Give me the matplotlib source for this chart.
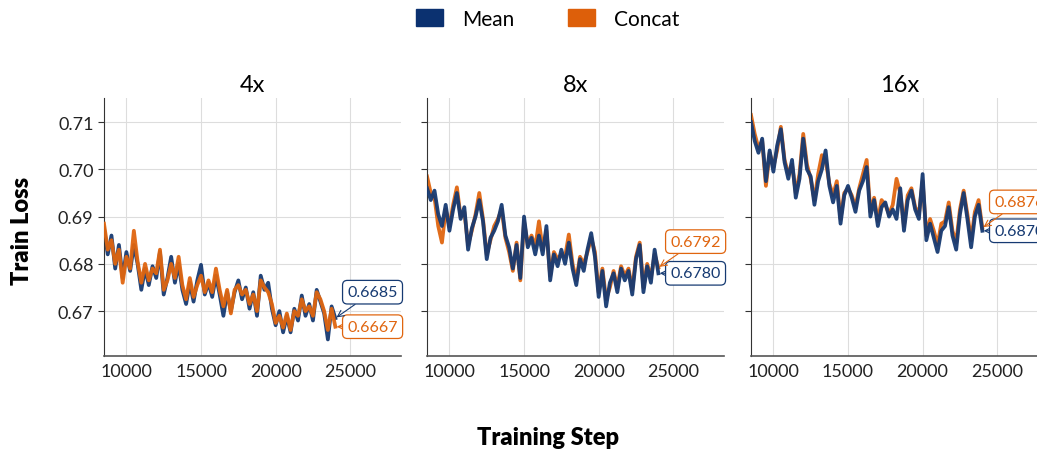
import numpy as np
import matplotlib
matplotlib.use("Agg")
import matplotlib.pyplot as plt
from matplotlib.patches import Patch

plt.rcParams['font.family'] = ['Lato', 'DejaVu Sans']

# training steps (every 250 steps)
steps = np.arange(8500, 24001, 250)

panels = ["4x", "8x", "16x"]

# 4x
mean_4x = [0.6875, 0.6820, 0.6860, 0.6790, 0.6840, 0.6770, 0.6825, 0.6785, 0.6840, 0.6800,
           0.6745, 0.6790, 0.6755, 0.6795, 0.6770, 0.6825, 0.6735, 0.6770, 0.6815, 0.6760,
           0.6800, 0.6745, 0.6715, 0.6760, 0.6720, 0.6765, 0.6798, 0.6735, 0.6760, 0.6730,
           0.6775, 0.6735, 0.6690, 0.6740, 0.6700, 0.6740, 0.6765, 0.6725, 0.6750, 0.6705,
           0.6740, 0.6690, 0.6775, 0.6745, 0.6760, 0.6705, 0.6670, 0.6700, 0.6655, 0.6690,
           0.6655, 0.6705, 0.6680, 0.6733, 0.6690, 0.6715, 0.6680, 0.6745, 0.6720, 0.6695,
           0.6640, 0.6710, 0.6685]
concat_4x = [0.6885, 0.6830, 0.6850, 0.6800, 0.6830, 0.6760, 0.6815, 0.6790, 0.6870, 0.6805,
             0.6760, 0.6800, 0.6765, 0.6790, 0.6780, 0.6830, 0.6745, 0.6765, 0.6800, 0.6770,
             0.6815, 0.6755, 0.6725, 0.6770, 0.6730, 0.6755, 0.6775, 0.6740, 0.6765, 0.6740,
             0.6790, 0.6745, 0.6710, 0.6745, 0.6695, 0.6745, 0.6755, 0.6735, 0.6745, 0.6715,
             0.6735, 0.6700, 0.6765, 0.6750, 0.6740, 0.6715, 0.6675, 0.6690, 0.6665, 0.6695,
             0.6660, 0.6700, 0.6690, 0.6725, 0.6700, 0.6710, 0.6690, 0.6740, 0.6725, 0.6700,
             0.6660, 0.6705, 0.6667]

# 8x
mean_8x = [0.6960, 0.6935, 0.6955, 0.6905, 0.6880, 0.6925, 0.6870, 0.6915, 0.6950, 0.6895,
           0.6920, 0.6830, 0.6875, 0.6900, 0.6935, 0.6890, 0.6810, 0.6855, 0.6870, 0.6890,
           0.6925, 0.6860, 0.6835, 0.6790, 0.6840, 0.6770, 0.6900, 0.6835, 0.6855, 0.6820,
           0.6860, 0.6820, 0.6880, 0.6765, 0.6820, 0.6795, 0.6830, 0.6800, 0.6845, 0.6790,
           0.6755, 0.6810, 0.6785, 0.6830, 0.6865, 0.6815, 0.6730, 0.6785, 0.6710, 0.6760,
           0.6780, 0.6740, 0.6790, 0.6765, 0.6785, 0.6735, 0.6810, 0.6840, 0.6740, 0.6795,
           0.6760, 0.6830, 0.6780]
concat_8x = [0.6985, 0.6950, 0.6940, 0.6880, 0.6845, 0.6915, 0.6880, 0.6925, 0.6962, 0.6900,
             0.6910, 0.6840, 0.6870, 0.6905, 0.6950, 0.6895, 0.6820, 0.6850, 0.6880, 0.6895,
             0.6915, 0.6855, 0.6825, 0.6785, 0.6845, 0.6765, 0.6890, 0.6840, 0.6860, 0.6835,
             0.6890, 0.6830, 0.6870, 0.6775, 0.6825, 0.6810, 0.6820, 0.6815, 0.6862, 0.6800,
             0.6765, 0.6815, 0.6800, 0.6825, 0.6855, 0.6825, 0.6740, 0.6790, 0.6725, 0.6750,
             0.6785, 0.6750, 0.6795, 0.6775, 0.6790, 0.6745, 0.6815, 0.6845, 0.6750, 0.6800,
             0.6770, 0.6820, 0.6792]

# 16x
mean_16x = [0.7100, 0.7060, 0.7035, 0.7065, 0.6975, 0.7040, 0.6995, 0.7050, 0.7085, 0.7015,
            0.6980, 0.7020, 0.6940, 0.6980, 0.7065, 0.7000, 0.6985, 0.6925, 0.6975, 0.7000,
            0.7040, 0.6965, 0.6930, 0.6965, 0.6885, 0.6945, 0.6965, 0.6940, 0.6910, 0.6955,
            0.6975, 0.7005, 0.6900, 0.6935, 0.6880, 0.6920, 0.6930, 0.6900, 0.6915, 0.6895,
            0.6960, 0.6870, 0.6935, 0.6955, 0.6915, 0.6895, 0.6990, 0.6850, 0.6885, 0.6855,
            0.6825, 0.6870, 0.6880, 0.6920, 0.6860, 0.6830, 0.6905, 0.6950, 0.6895, 0.6835,
            0.6900, 0.6925, 0.6870]
concat_16x = [0.7115, 0.7075, 0.7045, 0.7060, 0.6965, 0.7035, 0.7005, 0.7040, 0.7090, 0.7020,
              0.6990, 0.7010, 0.6950, 0.6990, 0.7075, 0.7010, 0.6980, 0.6935, 0.6990, 0.7030,
              0.7020, 0.6970, 0.6945, 0.6975, 0.6895, 0.6950, 0.6960, 0.6945, 0.6920, 0.6960,
              0.6990, 0.7020, 0.6910, 0.6940, 0.6890, 0.6935, 0.6925, 0.6905, 0.6925, 0.6980,
              0.6950, 0.6880, 0.6945, 0.6960, 0.6920, 0.6905, 0.6975, 0.6860, 0.6895, 0.6870,
              0.6840, 0.6885, 0.6890, 0.6930, 0.6870, 0.6845, 0.6915, 0.6955, 0.6905, 0.6850,
              0.6910, 0.6935, 0.6876]

mean_data = [mean_4x, mean_8x, mean_16x]
concat_data = [concat_4x, concat_8x, concat_16x]

c_mean = '#163a72'
c_concat = '#e0650f'

fig = plt.figure(figsize=(10.37, 4.52), dpi=100)
lefts = [0.1003, 0.4118, 0.7242]
axes = [fig.add_axes([l, 0.2102, 0.2864, 0.5708]) for l in lefts]

for i, ax in enumerate(axes):
    m = np.array(mean_data[i])
    c = np.array(concat_data[i])
    # panel 1 draws orange on top, others blue on top
    zm, zc = (2, 3) if i == 0 else (3, 2)
    ax.plot(steps, m, color=c_mean, lw=2.7, alpha=0.95, zorder=zm)
    ax.plot(steps, c, color=c_concat, lw=2.7, alpha=0.95, zorder=zc)

    ax.set_xlim(8500, 28400)
    ax.set_ylim(0.6605, 0.7151)
    ax.set_xticks([10000, 15000, 20000, 25000])
    ax.set_yticks([0.67, 0.68, 0.69, 0.70, 0.71])
    ax.grid(True, color='#dddddd', lw=0.8)
    ax.set_axisbelow(True)
    for s in ['top', 'right']:
        ax.spines[s].set_visible(False)
    ax.spines['left'].set_color('#333333')
    ax.spines['bottom'].set_color('#555555')
    ax.spines['bottom'].set_linewidth(1.2)
    ax.tick_params(axis='x', length=0, labelsize=13, pad=5, colors='#222222')
    ax.tick_params(axis='y', length=4, labelsize=13, color='#333333', labelcolor='#222222')
    if i > 0:
        ax.set_yticklabels([])
    else:
        ax.set_yticklabels(['0.67', '0.68', '0.69', '0.70', '0.71'])
    ax.set_title(panels[i], fontsize=17, pad=5)

    # end-value boxes
    last_m, last_c = m[-1], c[-1]
    items = [(last_m, c_mean), (last_c, c_concat)]
    items.sort(key=lambda t: t[0])
    for k, (v, col) in enumerate(items):
        dy = 0 if k == 0 else 26
        ax.annotate('%.4f' % v, xy=(steps[-1], v), xytext=(12, dy),
                    textcoords='offset pixels', ha='left', va='center',
                    fontsize=11.5, color=col, annotation_clip=False,
                    bbox=dict(boxstyle='round,pad=0.3', fc='white', ec=col, lw=0.9),
                    arrowprops=dict(arrowstyle='->', color=col, lw=0.8,
                                    shrinkA=0, shrinkB=1), zorder=5)

fig.text(0.021, 0.49, 'Train Loss', rotation=90, fontsize=17, fontweight='heavy',
         ha='center', va='center')
fig.text(0.528, 0.03, 'Training Step', fontsize=17, fontweight='heavy',
         ha='center', va='center')

handles = [Patch(color='#0b3170', label='Mean'), Patch(color='#dd5f0a', label='Concat')]
fig.legend(handles=handles, loc='upper center', bbox_to_anchor=(0.528, 1.02), ncol=2,
           frameon=False, fontsize=15, handlelength=1.3, handleheight=0.85,
           columnspacing=2.6, handletextpad=0.9)

fig.savefig('out.png', dpi=100)
